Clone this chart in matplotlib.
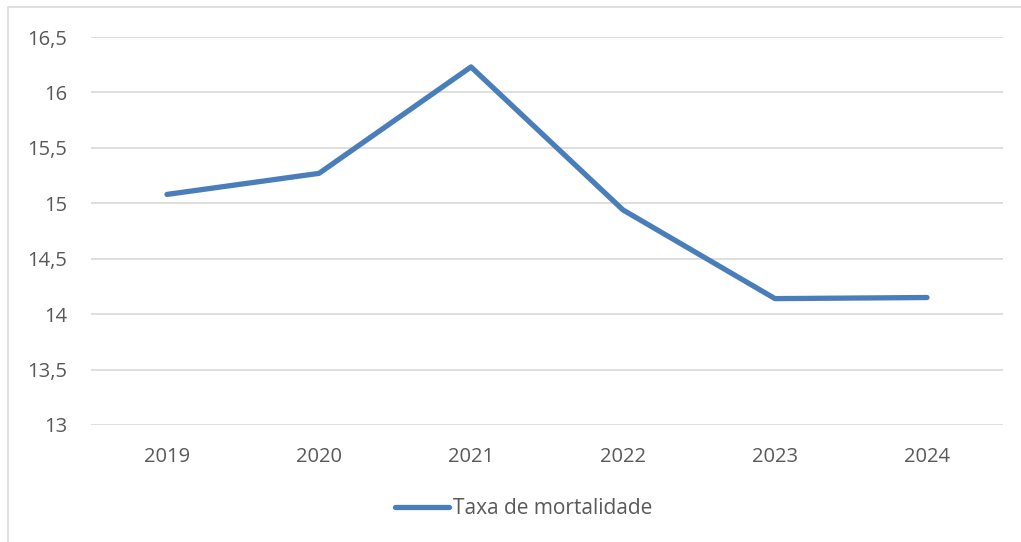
import matplotlib
matplotlib.use("Agg")
import matplotlib.pyplot as plt
from matplotlib.patches import Rectangle
from matplotlib.ticker import FuncFormatter, MultipleLocator

years = ["2019", "2020", "2021", "2022", "2023", "2024"]
taxa = [15.08, 15.27, 16.23, 14.94, 14.14, 14.15]
series_name = "Taxa de mortalidade"

plt.rcParams['font.family'] = ['Open Sans', 'DejaVu Sans']
txt = "#595959"

fig = plt.figure(figsize=(10.21, 5.42), dpi=100)
fig.patches.append(Rectangle((8/1021, -0.1), 1.2, 1 - 7/542 + 0.1, transform=fig.transFigure,
                             fill=False, edgecolor="#D9D9D9", linewidth=1.2))
ax = fig.add_axes([91/1021, 1 - 425/542, (1003 - 91)/1021, (425 - 37)/542])

x = list(range(len(years)))
ax.plot(x, taxa, color="#4A7EBB", linewidth=3.8, solid_capstyle="round",
        solid_joinstyle="round", label=series_name)

ax.set_xlim(-0.5, len(years) - 0.5)
ax.set_ylim(13, 16.5)
ax.yaxis.set_major_locator(MultipleLocator(0.5))
ax.yaxis.set_major_formatter(FuncFormatter(lambda v, p: (f"{v:g}").replace(".", ",")))
ax.set_xticks(x)
ax.set_xticklabels(years)
ax.grid(axis="y", color="#D9D9D9", linewidth=1.2)
ax.set_axisbelow(True)
for s in ax.spines.values():
    s.set_visible(False)
ax.tick_params(axis="both", length=0, labelsize=14.5, colors=txt)
ax.tick_params(axis="y", pad=17)
ax.tick_params(axis="x", pad=16)

leg = fig.legend(loc="center", bbox_to_anchor=(524/1021, 1 - 509/542), frameon=False,
                 fontsize=15, handlelength=2.6, handletextpad=0.2)
for t in leg.get_texts():
    t.set_color(txt)

fig.savefig("out.png", dpi=100)
